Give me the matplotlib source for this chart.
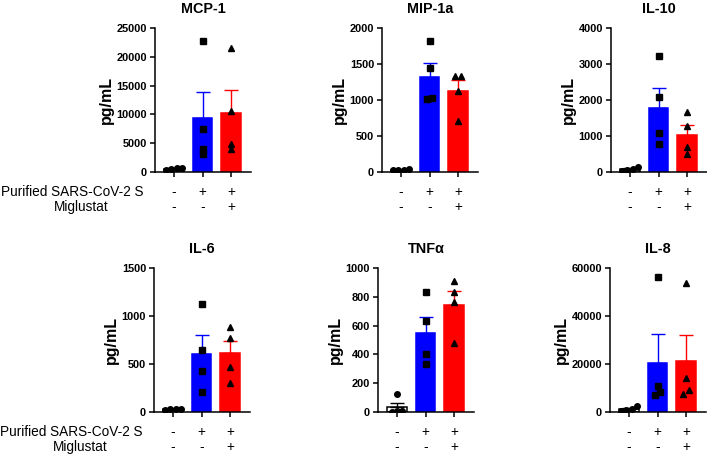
import numpy as np
import matplotlib
matplotlib.use("Agg")
import matplotlib.pyplot as plt

plt.rcParams["font.family"] = ["Liberation Sans", "DejaVu Sans"]

cytokines = ["MCP-1", "MIP-1a", "IL-10", "IL-6", "TNFα", "IL-8"]
spike_row = ["-", "+", "+"]
miglustat_row = ["-", "-", "+"]
row_names = ["Purified SARS-CoV-2 S", "Miglustat"]

# pg/mL, 4 replicates each: [control, spike, spike + miglustat]
mcp1 = [[300, 600, 700, 650], [22700, 7500, 4000, 3100], [21600, 10600, 4900, 4000]]
mip1a = [[25, 30, 35, 30], [1819, 1451, 1009, 1023], [1335, 1335, 1130, 712]]
il10 = [[150, 60, 40, 90], [3209, 2074, 1088, 791], [1665, 1284, 698, 512]]
il6 = [[25, 30, 30, 28], [1127, 645, 429, 213], [889, 774, 471, 307]]
tnfa = [[125, 10, 0, 5], [830, 633, 402, 330], [907, 830, 765, 477]]
il8 = [[2500, 1400, 800, 600], [56100, 11000, 8400, 7000], [53600, 14000, 9300, 7700]]
panel_data = [mcp1, mip1a, il10, il6, tnfa, il8]

y_max = [25000, 2000, 4000, 1500, 1000, 60000]
y_step = [5000, 500, 1000, 500, 200, 20000]

FIG_W, FIG_H = 707, 455
AX_LEFT = [155, 382, 611, 154, 378, 610]   # px
AX_TOP = [28, 28, 28, 268, 268, 268]
AX_W, AX_H = 96, 144

fill_colors = ["white", "#0000ff", "#ff0000"]
line_colors = ["black", "#0000ff", "#ff0000"]
markers = ["o", "s", "^"]
marker_sizes = [4.0, 4.0, 4.6]


def swarm(values, ymax, min_px=5.0, step=0.19):
    """Spread points that would overlap horizontally (GraphPad-ish scatter)."""
    px = np.asarray(values, dtype=float) / ymax * AX_H
    order = np.argsort(px)
    offs = np.zeros(len(values))
    clusters, cur = [], [order[0]]
    for a, b in zip(order[:-1], order[1:]):
        if px[b] - px[a] < min_px:
            cur.append(b)
        else:
            clusters.append(cur)
            cur = [b]
    clusters.append(cur)
    for c in clusters:
        n = len(c)
        for k, idx in enumerate(c):
            offs[idx] = (k - (n - 1) / 2) * step
    return offs


fig = plt.figure(figsize=(FIG_W / 100, FIG_H / 100), dpi=100)

for p, name in enumerate(cytokines):
    rect = [AX_LEFT[p] / FIG_W, (FIG_H - AX_TOP[p] - AX_H) / FIG_H,
            AX_W / FIG_W, AX_H / FIG_H]
    ax = fig.add_axes(rect)
    groups = panel_data[p]
    x = np.arange(3)
    means = [np.mean(g) for g in groups]
    sems = [np.std(g, ddof=1) / np.sqrt(len(g)) for g in groups]

    ax.bar(x, means, width=0.68, color=fill_colors, edgecolor=line_colors,
           linewidth=1.1, zorder=2)
    for i in range(3):
        ax.errorbar(x[i], means[i], yerr=[[0], [sems[i]]], color=line_colors[i],
                    capsize=5, elinewidth=1.0, capthick=1.0, zorder=3)
        offs = swarm(groups[i], y_max[p])
        ax.plot(x[i] + offs, groups[i], linestyle="none", marker=markers[i],
                ms=marker_sizes[i], color="black", zorder=4)

    ax.set_xlim(-0.67, 2.7)
    ax.set_ylim(0, y_max[p])
    ax.set_yticks(np.arange(0, y_max[p] + 1, y_step[p]))
    ax.set_xticks(x)
    ax.set_xticklabels([])
    for lab in ax.get_yticklabels():
        lab.set_fontweight("bold")
    ax.tick_params(axis="y", length=3.6, width=1.1, pad=2, labelsize=7.9)
    ax.tick_params(axis="x", length=3.6, width=1.1)
    for s in ["top", "right"]:
        ax.spines[s].set_visible(False)
    for s in ["left", "bottom"]:
        ax.spines[s].set_linewidth(1.1)

    ax.set_title(name, fontweight="bold", fontsize=10.4, pad=11)
    ax.set_ylabel("pg/mL", fontweight="bold", fontsize=11.5, labelpad=2)

    for i in range(3):
        ax.annotate(spike_row[i], xy=(x[i], 0), xycoords=("data", "axes fraction"),
                    xytext=(0, -14.4), textcoords="offset points",
                    ha="center", va="center", fontsize=9.8)
        ax.annotate(miglustat_row[i], xy=(x[i], 0), xycoords=("data", "axes fraction"),
                    xytext=(0, -25.2), textcoords="offset points",
                    ha="center", va="center", fontsize=9.8)

    if p in (0, 3):
        ax.annotate(row_names[0], xy=(0, 0), xycoords="axes fraction",
                    xytext=(-8.6, -14.4), textcoords="offset points",
                    ha="right", va="center", fontsize=9.8)
        ax.annotate(row_names[1], xy=(0, 0), xycoords="axes fraction",
                    xytext=(-33.8, -25.2), textcoords="offset points",
                    ha="right", va="center", fontsize=9.8)

fig.savefig("out.png", dpi=100)
